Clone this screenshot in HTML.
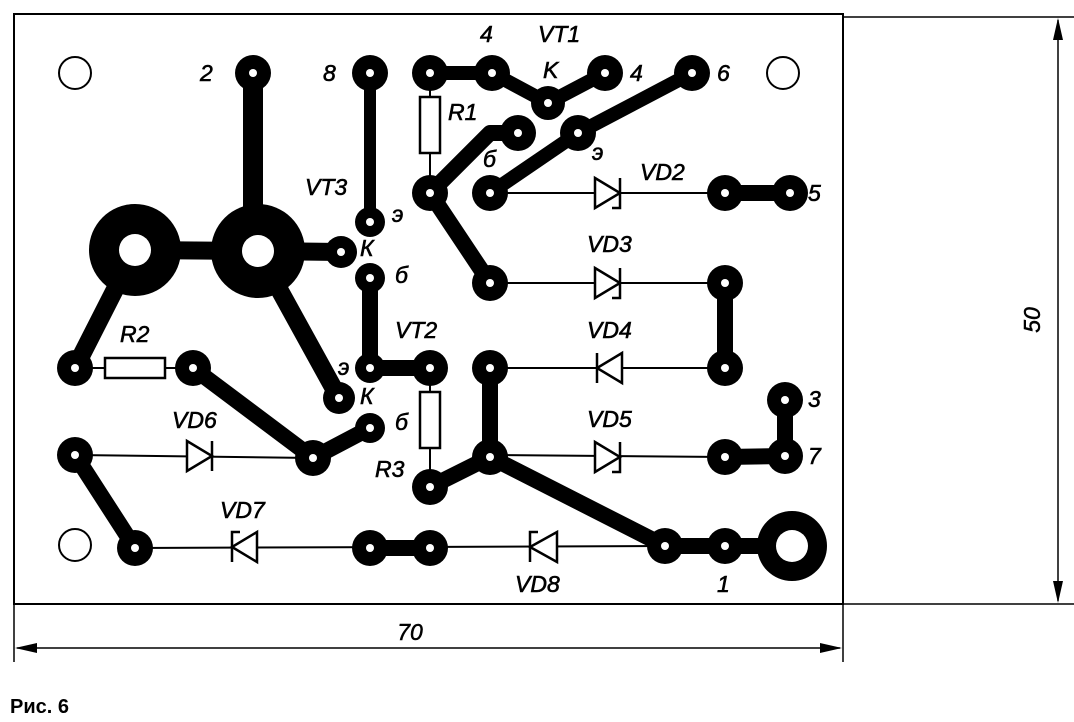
<!DOCTYPE html>
<html><head><meta charset="utf-8"><style>
html,body{margin:0;padding:0;background:#fff;}
svg{display:block;}
text{font-family:"Liberation Sans",sans-serif;font-style:italic;fill:#000;}
</style></head><body>
<svg width="1074" height="722" viewBox="0 0 1074 722" xmlns="http://www.w3.org/2000/svg">
<rect x="14" y="14" width="829" height="590" fill="none" stroke="#000" stroke-width="2"/>
<g stroke="#000" stroke-width="1.5" fill="none">
<line x1="843" y1="17" x2="1074" y2="17"/>
<line x1="843" y1="604" x2="1074" y2="604"/>
<line x1="1058" y1="20" x2="1058" y2="601"/>
<line x1="14" y1="604" x2="14" y2="662"/>
<line x1="843" y1="604" x2="843" y2="662"/>
<line x1="17" y1="648" x2="840" y2="648"/>
</g>
<g fill="#000">
<polygon points="1058,18 1053,40 1063,40"/>
<polygon points="1058,603 1053,581 1063,581"/>
<polygon points="15,648 37,643 37,653"/>
<polygon points="842,648 820,643 820,653"/>
</g>
<text x="1040" y="320" font-size="23" stroke="#000" stroke-width="0.5" transform="rotate(-90 1040 320)" text-anchor="middle">50</text>
<text x="410" y="640" font-size="23" stroke="#000" stroke-width="0.5" text-anchor="middle">70</text>
<text x="10" y="713" font-size="20" font-weight="bold" style="font-style:normal">Рис. 6</text>

<g fill="none" stroke="#000" stroke-width="2">
<circle cx="75" cy="73" r="16"/><circle cx="783" cy="73" r="16"/><circle cx="75" cy="545" r="16"/>
</g>

<g stroke="#000" stroke-linecap="round" stroke-linejoin="round" fill="none">
<polyline points="253,73 253,250" stroke-width="20"/>
<polyline points="370,73 370,222" stroke-width="12"/>
<polyline points="430,73 492,73 548,103 605,73" stroke-width="14"/>
<polyline points="692,73 578,133 490,193" stroke-width="14"/>
<polyline points="518,133 490,133 430,193 490,283" stroke-width="16"/>
<polyline points="135,250 258,251 341,252" stroke-width="18"/>
<polyline points="135,250 75,368" stroke-width="18"/>
<polyline points="258,251 339,398" stroke-width="18"/>
<polyline points="370,278 370,368 430,368" stroke-width="16"/>
<polyline points="725,283 725,368" stroke-width="16"/>
<polyline points="193,368 313,458 370,428" stroke-width="16"/>
<polyline points="490,368 490,457 430,487" stroke-width="16"/>
<polyline points="490,457 665,546 792,546" stroke-width="16"/>
<polyline points="785,400 785,456 725,457" stroke-width="16"/>
<polyline points="75,455 135,548" stroke-width="16"/>
<polyline points="725,193 790,193" stroke-width="16"/>
<polyline points="370,548 430,548" stroke-width="16"/>
</g>
<g stroke="#000" stroke-width="2" fill="none">
<line x1="490" y1="193" x2="725" y2="193"/>
<line x1="490" y1="283" x2="725" y2="283"/>
<line x1="490" y1="368" x2="725" y2="368"/>
<line x1="75" y1="455" x2="313" y2="458"/>
<line x1="490" y1="455" x2="725" y2="457"/>
<line x1="135" y1="548" x2="665" y2="546"/>
<line x1="75" y1="368" x2="193" y2="368"/>
<line x1="430" y1="73" x2="430" y2="193"/>
<line x1="430" y1="368" x2="430" y2="487"/>
</g>
<g fill="#fff" stroke="#000" stroke-width="2.5">
<rect x="420" y="97" width="20" height="56"/>
<rect x="105" y="358" width="60" height="20"/>
<rect x="420" y="392" width="20" height="56"/>
</g>
<g fill="#000">
<circle cx="253" cy="73" r="18"/><circle cx="370" cy="73" r="18"/><circle cx="430" cy="73" r="18"/>
<circle cx="492" cy="73" r="18"/><circle cx="548" cy="103" r="17"/><circle cx="605" cy="73" r="18"/>
<circle cx="692" cy="73" r="18"/><circle cx="518" cy="133" r="18"/><circle cx="578" cy="133" r="18"/>
<circle cx="430" cy="193" r="18"/><circle cx="490" cy="193" r="18"/><circle cx="725" cy="193" r="18"/>
<circle cx="790" cy="193" r="18"/><circle cx="370" cy="222" r="15"/><circle cx="135" cy="250" r="46"/>
<circle cx="258" cy="251" r="47"/><circle cx="341" cy="252" r="16"/><circle cx="370" cy="278" r="15"/>
<circle cx="490" cy="283" r="18"/><circle cx="725" cy="283" r="18"/><circle cx="75" cy="368" r="18"/>
<circle cx="193" cy="368" r="18"/><circle cx="370" cy="368" r="15"/><circle cx="430" cy="368" r="18"/>
<circle cx="490" cy="368" r="18"/><circle cx="725" cy="368" r="18"/><circle cx="339" cy="398" r="16"/>
<circle cx="370" cy="428" r="15"/><circle cx="785" cy="400" r="18"/><circle cx="75" cy="455" r="18"/>
<circle cx="313" cy="458" r="18"/><circle cx="490" cy="457" r="18"/><circle cx="725" cy="457" r="18"/>
<circle cx="785" cy="456" r="18"/><circle cx="430" cy="487" r="18"/><circle cx="135" cy="548" r="18"/>
<circle cx="370" cy="548" r="18"/><circle cx="430" cy="548" r="18"/><circle cx="665" cy="546" r="18"/>
<circle cx="725" cy="546" r="18"/><circle cx="792" cy="546" r="35"/>
</g>
<g fill="#fff">
<circle cx="253" cy="73" r="4"/><circle cx="370" cy="73" r="4"/><circle cx="430" cy="73" r="4"/>
<circle cx="492" cy="73" r="4"/><circle cx="548" cy="103" r="4"/><circle cx="605" cy="73" r="4"/>
<circle cx="692" cy="73" r="4"/><circle cx="518" cy="133" r="4"/><circle cx="578" cy="133" r="4"/>
<circle cx="430" cy="193" r="4"/><circle cx="490" cy="193" r="4"/><circle cx="725" cy="193" r="4"/>
<circle cx="790" cy="193" r="4"/><circle cx="370" cy="222" r="4"/><circle cx="135" cy="250" r="16"/>
<circle cx="258" cy="251" r="16"/><circle cx="341" cy="252" r="4"/><circle cx="370" cy="278" r="4"/>
<circle cx="490" cy="283" r="4"/><circle cx="725" cy="283" r="4"/><circle cx="75" cy="368" r="4"/>
<circle cx="193" cy="368" r="4"/><circle cx="370" cy="368" r="4"/><circle cx="430" cy="368" r="4"/>
<circle cx="490" cy="368" r="4"/><circle cx="725" cy="368" r="4"/><circle cx="339" cy="398" r="4"/>
<circle cx="370" cy="428" r="4"/><circle cx="785" cy="400" r="4"/><circle cx="75" cy="455" r="4"/>
<circle cx="313" cy="458" r="4"/><circle cx="490" cy="457" r="4"/><circle cx="725" cy="457" r="4"/>
<circle cx="785" cy="456" r="4"/><circle cx="430" cy="487" r="4"/><circle cx="135" cy="548" r="4"/>
<circle cx="370" cy="548" r="4"/><circle cx="430" cy="548" r="4"/><circle cx="665" cy="546" r="4"/>
<circle cx="725" cy="546" r="4"/><circle cx="792" cy="546" r="16"/>
</g>
<g fill="#fff" stroke="#000" stroke-width="2.5">
<polygon points="595,178 595,208 620,193"/><polyline points="620,178 620,208 612,208" fill="none"/>
<polygon points="595,268 595,298 620,283"/><polyline points="620,268 620,298 612,298" fill="none"/>
<polygon points="622,353 622,383 597,368"/><polyline points="597,353 597,383" fill="none"/>
<polygon points="595,442 595,472 620,457"/><polyline points="620,442 620,472 612,472" fill="none"/>
<polygon points="187,441 187,471 212,456"/><polyline points="212,441 212,471" fill="none"/>
<polygon points="257,532 257,562 232,547"/><polyline points="240,532 232,532 232,562" fill="none"/>
<polygon points="557,532 557,562 530,547"/><polyline points="538,532 530,532 530,562" fill="none"/>
</g>
<g font-size="23" stroke="#000" stroke-width="0.6">
<text x="200" y="81">2</text><text x="323" y="81">8</text>
<text x="480" y="42">4</text><text x="538" y="42">VT1</text><text x="543" y="78">K</text>
<text x="630" y="81">4</text><text x="717" y="81">6</text>
<text x="448" y="120">R1</text><text x="483" y="167">б</text><text x="592" y="160">э</text>
<text x="640" y="180">VD2</text><text x="808" y="201">5</text>
<text x="305" y="195">VT3</text><text x="392" y="222">э</text><text x="360" y="256">К</text>
<text x="395" y="283">б</text><text x="587" y="252">VD3</text>
<text x="395" y="338">VT2</text><text x="120" y="342">R2</text><text x="587" y="338">VD4</text>
<text x="338" y="375">э</text><text x="360" y="404">К</text><text x="395" y="430">б</text>
<text x="808" y="407">3</text><text x="172" y="428">VD6</text><text x="587" y="427">VD5</text>
<text x="808" y="464">7</text><text x="375" y="477">R3</text>
<text x="220" y="518">VD7</text><text x="515" y="592">VD8</text><text x="717" y="592">1</text>
</g>
</svg>
</body></html>
